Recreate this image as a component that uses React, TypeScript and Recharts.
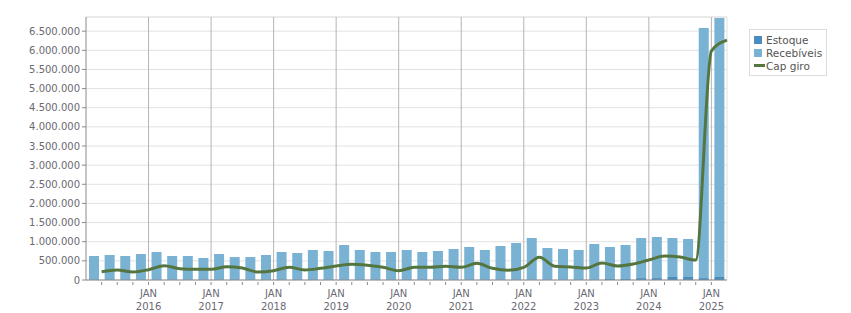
import React from 'react';
import { ComposedChart, Bar, Line, XAxis, YAxis, CartesianGrid, ReferenceLine } from 'recharts';

// quarters Q1/2015 .. Q1/2025
const trimestres = [
  '2015T1', '2015T2', '2015T3', '2015T4',
  '2016T1', '2016T2', '2016T3', '2016T4',
  '2017T1', '2017T2', '2017T3', '2017T4',
  '2018T1', '2018T2', '2018T3', '2018T4',
  '2019T1', '2019T2', '2019T3', '2019T4',
  '2020T1', '2020T2', '2020T3', '2020T4',
  '2021T1', '2021T2', '2021T3', '2021T4',
  '2022T1', '2022T2', '2022T3', '2022T4',
  '2023T1', '2023T2', '2023T3', '2023T4',
  '2024T1', '2024T2', '2024T3', '2024T4',
  '2025T1',
];

const estoque = [
  0, 0, 0, 0, 0, 0, 0, 0, 0, 0,
  0, 0, 0, 0, 0, 0, 0, 0, 0, 0,
  0, 0, 0, 0, 0, 0, 0, 0, 0, 0,
  0, 0, 0, 25000, 25000, 50000, 50000, 78000, 78000, 50000,
  78000,
];

const recebiveis = [
  627000, 653000, 627000, 679000, 731000, 627000, 627000, 574000, 679000, 600000,
  600000, 653000, 731000, 705000, 783000, 757000, 914000, 783000, 731000, 731000,
  783000, 731000, 757000, 809000, 862000, 783000, 888000, 966000, 1097000, 836000,
  809000, 783000, 940000, 837000, 889000, 1047000, 1073000, 1019000, 993000, 6530000,
  6763000,
];

// capital de giro, measured at end of each quarter
const capGiro = [
  217000, 261000, 209000, 270000, 374000, 296000, 279000, 279000, 348000, 313000,
  209000, 244000, 335000, 261000, 305000, 366000, 409000, 383000, 331000, 244000,
  331000, 331000, 357000, 331000, 435000, 305000, 252000, 331000, 592000, 357000,
  340000, 313000, 444000, 366000, 418000, 522000, 627000, 600000, 522000, 5979000,
  6266000,
];

const yTicks = [0, 500000, 1000000, 1500000, 2000000, 2500000, 3000000, 3500000,
  4000000, 4500000, 5000000, 5500000, 6000000, 6500000];
const yMax = 6870000;
const xTicks = Array.from({ length: 40 }, (_, i) => i + 1);
const anos = [4, 8, 12, 16, 20, 24, 28, 32, 36, 40];

const data = trimestres.map((t, i) => ({
  trimestre: t,
  pos: i + 1,
  estoque: estoque[i],
  recebiveis: recebiveis[i],
  capGiro: capGiro[i],
}));

const FONT = '"DejaVu Sans", Verdana, sans-serif';
const LABEL = '#6a6a72';
const AXIS = '#8a8a8a';

const fmt = (v: number) => String(v).replace(/\B(?=(\d{3})+(?!\d))/g, '.');

const QuarterTick = (props: any) => {
  const { x, y, payload } = props;
  const v = payload.value as number;
  return (
    <g>
      <line x1={x} y1={y + 2} x2={x} y2={y + 5} stroke={AXIS} />
      {v % 4 === 0 && (
        <>
          <text x={x} y={y + 17} textAnchor="middle" fontSize={10} fontFamily={FONT} fill={LABEL}>JAN</text>
          <text x={x} y={y + 30} textAnchor="middle" fontSize={10} fontFamily={FONT} fill={LABEL}>{2015 + v / 4}</text>
        </>
      )}
    </g>
  );
};

const LegendBox = () => (
  <div style={{ position: 'absolute', left: 749, top: 29, border: '1px solid #dcdcdc', padding: '3px 4px 3px 4px', fontFamily: FONT, fontSize: 10.5, color: '#555', background: '#fff' }}>
    <div style={{ display: 'flex', alignItems: 'center', height: 13 }}>
      <span style={{ width: 8, height: 8, background: '#4a8cbe', marginRight: 4, display: 'inline-block' }} />Estoque
    </div>
    <div style={{ display: 'flex', alignItems: 'center', height: 13 }}>
      <span style={{ width: 8, height: 8, background: '#7ab2d4', marginRight: 4, display: 'inline-block' }} />Recebíveis
    </div>
    <div style={{ display: 'flex', alignItems: 'center', height: 13 }}>
      <span style={{ width: 11, height: 3, background: '#55753e', marginRight: 1, display: 'inline-block' }} />Cap giro
    </div>
  </div>
);

export default function App() {
  return (
    <div style={{ position: 'absolute', left: 0, top: 0, width: 851, height: 313, background: '#fff' }}>
      <ComposedChart width={851} height={313} data={data} margin={{ top: 17, right: 124, bottom: 0, left: 0 }}>
        <CartesianGrid vertical={false} stroke="#e2e2e2" />
        <XAxis
          xAxisId="num"
          dataKey="pos"
          type="number"
          domain={[0, 41]}
          ticks={xTicks}
          interval={0}
          height={33}
          tickSize={0}
          tickMargin={0}
          tickLine={false}
          axisLine={{ stroke: AXIS }}
          tick={<QuarterTick />}
        />
        <XAxis xAxisId="cat" dataKey="trimestre" type="category" hide height={0} />
        <YAxis
          width={86}
          domain={[0, yMax]}
          ticks={yTicks}
          interval={0}
          allowDataOverflow
          tickSize={4}
          tickMargin={2}
          tickLine={{ stroke: AXIS }}
          axisLine={{ stroke: AXIS }}
          tickFormatter={fmt}
          tick={{ fontSize: 10, fontFamily: FONT, fill: LABEL }}
        />
        <ReferenceLine y={yMax} stroke="#e2e2e2" />
        <ReferenceLine xAxisId="num" x={41} stroke="#e2e2e2" />
        {anos.map((a) => (
          <ReferenceLine key={a} xAxisId="num" x={a} stroke="#b4b4b4" />
        ))}
        <Bar xAxisId="cat" dataKey="estoque" stackId="a" fill="#4a8cbe" barSize={10} isAnimationActive={false} />
        <Bar xAxisId="cat" dataKey="recebiveis" stackId="a" fill="#7ab2d4" barSize={10} isAnimationActive={false} />
        <Line
          xAxisId="num"
          dataKey="capGiro"
          type="monotone"
          stroke="#55753e"
          strokeWidth={3}
          dot={false}
          isAnimationActive={false}
        />
      </ComposedChart>
      <LegendBox />
    </div>
  );
}
